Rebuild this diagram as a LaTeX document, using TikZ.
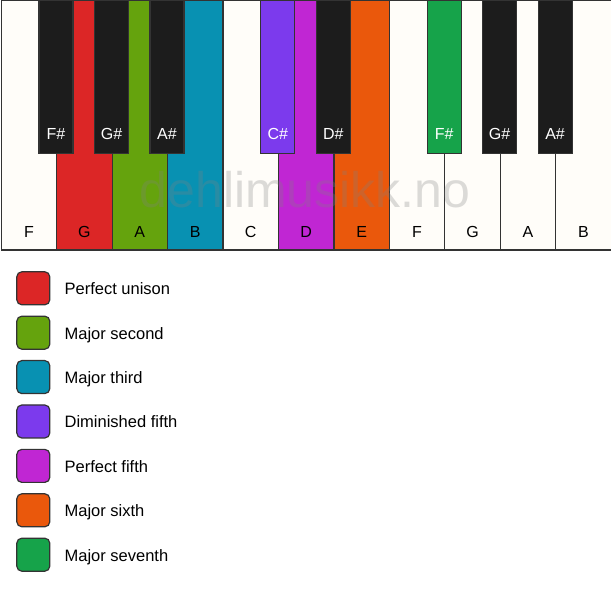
\documentclass[tikz,border=0pt]{standalone}
\usepackage{fontspec}
\setmainfont{Liberation Sans}
\usepackage{xcolor}
\usetikzlibrary{positioning, calc}

\definecolor{ivory}{HTML}{FFFDF9}
\definecolor{keyblack}{HTML}{1C1C1C}
\definecolor{keyline}{HTML}{333333}
\definecolor{unison}{HTML}{DC2626}
\definecolor{second}{HTML}{65A30D}
\definecolor{third}{HTML}{0891B2}
\definecolor{dimfifth}{HTML}{7C3AED}
\definecolor{fifth}{HTML}{C026D3}
\definecolor{sixth}{HTML}{EA580C}
\definecolor{seventh}{HTML}{16A34A}

\begin{document}
\begin{tikzpicture}[
    x=1pt, y=1pt,
    whitekey/.style={draw=keyline, line width=1.2pt, inner sep=0pt, anchor=north west, minimum width=55.45pt, minimum height=249.5pt},
    blackkey/.style={draw=keyline, line width=1.2pt, inner sep=0pt, anchor=north, minimum width=34pt, minimum height=153pt},
    keyname/.style={anchor=base, inner sep=0pt, font=\fontsize{16}{19}\selectfont},
    swatch/.style={draw=keyline, line width=1.2pt, rounded corners=5pt, minimum size=33pt, inner sep=0pt},
    legendtext/.style={inner sep=0pt, font=\fontsize{16.5}{19}\selectfont}
]
    \useasboundingbox[fill=white] (0,0) rectangle (611,594);

    % White keys
    \foreach \n/\c [count=\i from 0] in {F/ivory,G/unison,A/second,B/third,C/ivory,D/fifth,E/sixth,F/ivory,G/ivory,A/ivory,B/ivory} {
        \node[whitekey, fill=\c] (w\i) at (\i*55.45+0.6, 594) {};
        \node[keyname] (wl\i) at ([yshift=13.5pt]w\i.south) {\n};
    }

    % Watermark
    \node[anchor=base, inner sep=0pt, text=gray, text opacity=0.28, font=\fontsize{50}{55}\selectfont] (mark) at (305, 386) {dehlimusikk.no};

    % Black keys
    \foreach \n/\c/\k in {F\#/keyblack/1, G\#/keyblack/2, A\#/keyblack/3, C\#/dimfifth/5, D\#/keyblack/6, F\#/seventh/8, G\#/keyblack/9, A\#/keyblack/10} {
        \node[blackkey, fill=\c] (b\k) at (\k*55.45+0.6, 594) {};
        \node[keyname, text=white] (bl\k) at ([yshift=14.5pt]b\k.south) {\n};
    }

    % Legend
    \foreach \t/\c [count=\j from 0] in {Perfect unison/unison, Major second/second, Major third/third, Diminished fifth/dimfifth, Perfect fifth/fifth, Major sixth/sixth, Major seventh/seventh} {
        \node[swatch, fill=\c] (sw\j) at (33.3, 305.7-44.4*\j) {};
        \node[legendtext, right=14pt of sw\j.east, anchor=base west, yshift=-6.4pt] (lt\j) {\t};
    }
\end{tikzpicture}
\end{document}
